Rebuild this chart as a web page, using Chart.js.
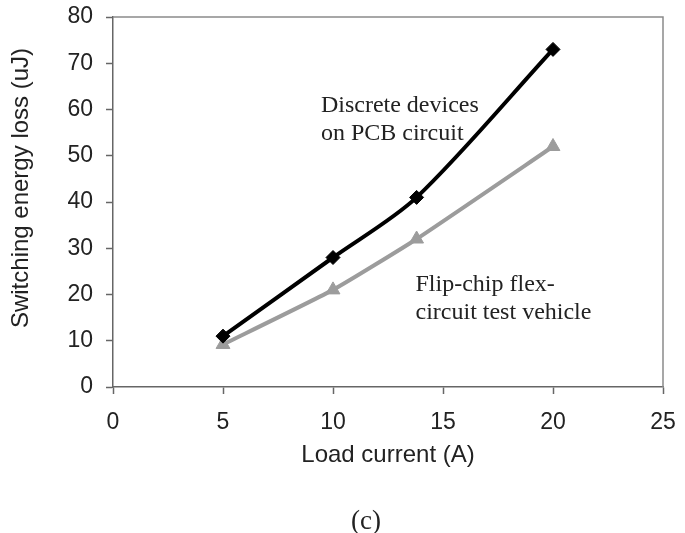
<!DOCTYPE html>
<html>
<head>
<meta charset="utf-8">
<script src="https://cdn.jsdelivr.net/npm/chart.js@4.4.1/dist/chart.umd.min.js"></script>
<style>
html,body{margin:0;padding:0;background:#fff;}
#wrap{position:relative;width:685px;height:533px;}
</style>
</head>
<body>
<div id="wrap"><canvas id="c" width="685" height="533"></canvas></div>
<script>
const loadCurrent = [5, 10, 13.8, 20];
const discretePCB = [11, 28, 41, 73];
const flipChipFlex = [9.2, 21, 32, 52];
const xTicks = [0, 5, 10, 15, 20, 25];
const yTicks = [0, 10, 20, 30, 40, 50, 60, 70, 80];
const xTitle = 'Load current (A)';
const yTitle = 'Switching energy loss (uJ)';
const labelPCB = ['Discrete devices', 'on PCB circuit'];
const labelFlex = ['Flip-chip flex-', 'circuit test vehicle'];
const caption = '(c)';

const pts = (xs, ys) => xs.map((x, i) => ({x: x, y: ys[i]}));

const decor = {
  id: 'decor',
  afterDraw(chart) {
    const {ctx, chartArea: a, scales: {x, y}} = chart;
    ctx.save();
    // top & right frame
    ctx.strokeStyle = '#8a8a8a';
    ctx.lineWidth = 1.5;
    ctx.beginPath();
    ctx.moveTo(a.left, a.top);
    ctx.lineTo(a.right, a.top);
    ctx.lineTo(a.right, a.bottom);
    ctx.stroke();
    // y-axis title
    ctx.save();
    ctx.fillStyle = '#222';
    ctx.font = '24px "Liberation Sans", Arial, sans-serif';
    ctx.textAlign = 'center';
    ctx.textBaseline = 'middle';
    ctx.translate(21, (a.top + a.bottom) / 2 - 14);
    ctx.rotate(-Math.PI / 2);
    ctx.fillText(yTitle, 0, 0);
    ctx.restore();
    // annotations
    ctx.fillStyle = '#222';
    ctx.font = '24px "Liberation Serif", "Times New Roman", serif';
    ctx.textAlign = 'left';
    ctx.textBaseline = 'alphabetic';
    let px = x.getPixelForValue(9.45), py = y.getPixelForValue(59.5);
    ctx.fillText(labelPCB[0], px, py);
    ctx.fillText(labelPCB[1], px, py + 28);
    px = x.getPixelForValue(13.75); py = y.getPixelForValue(20.7);
    ctx.fillText(labelFlex[0], px, py);
    ctx.fillText(labelFlex[1], px, py + 28);
    // caption
    ctx.font = '27px "Liberation Serif", "Times New Roman", serif';
    ctx.textAlign = 'center';
    ctx.fillText(caption, 366, 529);
    ctx.restore();
  }
};

new Chart(document.getElementById('c'), {
  type: 'scatter',
  data: {
    datasets: [
      {
        label: 'Discrete devices on PCB circuit',
        data: pts(loadCurrent, discretePCB),
        showLine: true,
        borderColor: '#000',
        backgroundColor: '#000',
        borderWidth: 4,
        tension: 0.3,
        pointStyle: 'rectRot',
        pointRadius: 7,
        pointBorderWidth: 1
      },
      {
        label: 'Flip-chip flex-circuit test vehicle',
        data: pts(loadCurrent, flipChipFlex),
        showLine: true,
        borderColor: '#9c9c9c',
        backgroundColor: '#9c9c9c',
        borderWidth: 4,
        tension: 0.15,
        pointStyle: 'triangle',
        pointRadius: 8,
        pointBorderWidth: 1
      }
    ]
  },
  options: {
    responsive: false,
    animation: false,
    devicePixelRatio: 1,
    layout: {padding: {left: 0, top: 17, right: 22, bottom: 63}},
    plugins: {legend: {display: false}, tooltip: {enabled: false}},
    scales: {
      x: {
        type: 'linear',
        min: 0, max: 25,
        afterBuildTicks: (s) => { s.ticks = xTicks.map(v => ({value: v})); },
        afterFit: (s) => { s.height = 83; s.paddingLeft = 0; s.paddingRight = 0; },
        grid: {drawOnChartArea: false, drawTicks: true, tickLength: 7, color: '#666', tickWidth: 1.5},
        border: {color: '#666', width: 1.5},
        ticks: {color: '#222', font: {family: '"Liberation Sans", Arial, sans-serif', size: 23}, padding: 15},
        title: {display: true, text: xTitle, color: '#222', font: {family: '"Liberation Sans", Arial, sans-serif', size: 24}, padding: {top: 0, bottom: 0}}
      },
      y: {
        type: 'linear',
        min: 0, max: 80,
        afterBuildTicks: (s) => { s.ticks = yTicks.map(v => ({value: v})); },
        afterFit: (s) => { s.width = 113; s.paddingTop = 0; s.paddingBottom = 0; },
        grid: {drawOnChartArea: false, drawTicks: true, tickLength: 7, color: '#666', tickWidth: 1.5},
        border: {color: '#666', width: 1.5},
        ticks: {color: '#222', font: {family: '"Liberation Sans", Arial, sans-serif', size: 23}, padding: 13},
        title: {display: false}
      }
    }
  },
  plugins: [decor]
});
</script>
</body>
</html>
